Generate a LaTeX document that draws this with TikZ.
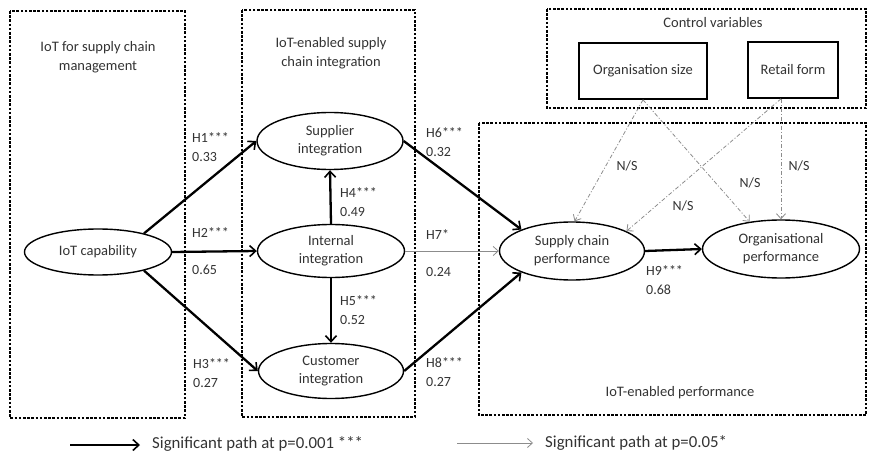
\documentclass[tikz,border=0pt]{standalone}
\usepackage{fontspec}
\setmainfont{Carlito}
\usetikzlibrary{arrows.meta,shapes.geometric,calc}
\begin{document}
\begin{tikzpicture}[x=1pt,y=-1pt,
  grp/.style={draw, line width=1.3pt, dash pattern=on 2.6pt off 1.6pt},
  ttl/.style={align=center, inner sep=0pt, font=\fontsize{14.5}{19}\selectfont, text=black!80},
  lat/.style={ellipse, draw, line width=1.4pt, inner sep=0pt, align=center,
              font=\fontsize{14.5}{18}\selectfont, text=black!80},
  ctrl/.style={rectangle, draw, line width=1.6pt, inner sep=0pt, align=center,
              font=\fontsize{14.5}{18}\selectfont, text=black!80},
  strong/.style={line width=2.3pt, -{Straight Barb[length=6pt,width=11pt,line width=1.6pt]}},
  weak/.style={line width=0.8pt, draw=black!45, -{Straight Barb[length=5pt,width=9pt]}},
  nsarr/.style={line width=0.8pt, draw=black!45, dash pattern=on 4pt off 2pt on 1pt off 2pt,
              -{Straight Barb[length=5pt,width=9pt]}},
  lab/.style={anchor=west, align=left, inner sep=0pt, font=\fontsize{14}{19}\selectfont, text=black!80},
  nslab/.style={inner sep=0pt, font=\fontsize{14}{17}\selectfont, text=black!80},
  leg/.style={anchor=west, inner sep=0pt, font=\fontsize{16.8}{19}\selectfont, text=black!80},
]
\useasboundingbox (0,0) rectangle (869,454);

% group frames
\draw[grp] (10,11) rectangle (185,418);
\draw[grp] (242,10) rectangle (415,417);
\draw[grp] (547,9) rectangle (866,108);
\draw[grp] (479,123) rectangle (866,415);

\node[ttl] (t1) at (98,57) {IoT for supply chain\\management};
\node[ttl] (t2) at (331,53) {IoT-enabled supply\\chain integration};
\node[ttl] (t3) at (713,23) {Control variables};
\node[ttl] (t4) at (680,393) {IoT-enabled performance};

% constructs
\node[lat, minimum width=147pt, minimum height=46pt] (iot) at (98,252) {IoT capability};
\node[lat, minimum width=146pt, minimum height=57pt] (sup) at (330,141) {Supplier\\integration};
\node[lat, minimum width=147pt, minimum height=53pt] (int) at (331,251) {Internal\\integration};
\node[lat, minimum width=145pt, minimum height=55pt] (cus) at (331,371) {Customer\\integration};
\node[lat, minimum width=145pt, minimum height=58pt] (scp) at (572,251) {Supply chain\\performance};
\node[lat, minimum width=157pt, minimum height=58pt] (op) at (781,249) {Organisational\\performance};

\node[ctrl, minimum width=128pt, minimum height=56pt] (os) at (643,71) {Organisation size};
\node[ctrl, minimum width=90pt, minimum height=56pt] (rf) at (793,70) {Retail form};

% paths
\draw[strong] (iot.22) -- (sup.west);
\draw[strong] (iot.east) -- (int.west);
\draw[strong] (iot.-22) -- (cus.west);
\draw[strong] (int.north) -- (sup.south);
\draw[strong] (int.south) -- (cus.north);
\draw[strong] (sup.east) -- (scp.157);
\draw[weak] (int.east) -- (scp.west);
\draw[strong] (cus.east) -- (scp.203);
\draw[strong] (scp.east) -- (op.west);

% control paths
\draw[nsarr] (os.south) -- (scp.85);
\draw[nsarr] (os.south) -- (op.139);
\draw[nsarr] (rf.south -| op.north) -- (scp.20);
\draw[nsarr] (rf.south -| op.north) -- (op.north);

% labels
\node[lab] (l1) at (192,147) {H1***\\0.33};
\node[lab] (l2a) at (192,233) {H2***};
\node[lab] (l2b) at (192,270) {0.65};
\node[lab] (l3) at (193,373) {H3***\\0.27};
\node[lab] (l4) at (340,202) {H4***\\0.49};
\node[lab] (l5) at (340,310) {H5***\\0.52};
\node[lab] (l6) at (426,142) {H6***\\0.32};
\node[lab] (l7a) at (426,235) {H7*};
\node[lab] (l7b) at (426,272) {0.24};
\node[lab] (l8) at (426,372) {H8***\\0.27};
\node[lab] (l9) at (646,280) {H9***\\0.68};

\node[nslab] (n1) at (627,166) {N/S};
\node[nslab] (n2) at (750,183) {N/S};
\node[nslab] (n3) at (683,206) {N/S};
\node[nslab] (n4) at (799,166) {N/S};

% legend
\coordinate (la) at (70,445);
\coordinate (lb) at (140,445);
\coordinate (lc) at (457,443);
\coordinate (ld) at (533,443);
\draw[strong] (la) -- (lb);
\draw[weak] (lc) -- (ld);
\node[leg] (g1) at (152,444) {Significant path at p=0.001 ***};
\node[leg] (g2) at (545,443) {Significant path at p=0.05*};
\end{tikzpicture}
\end{document}
